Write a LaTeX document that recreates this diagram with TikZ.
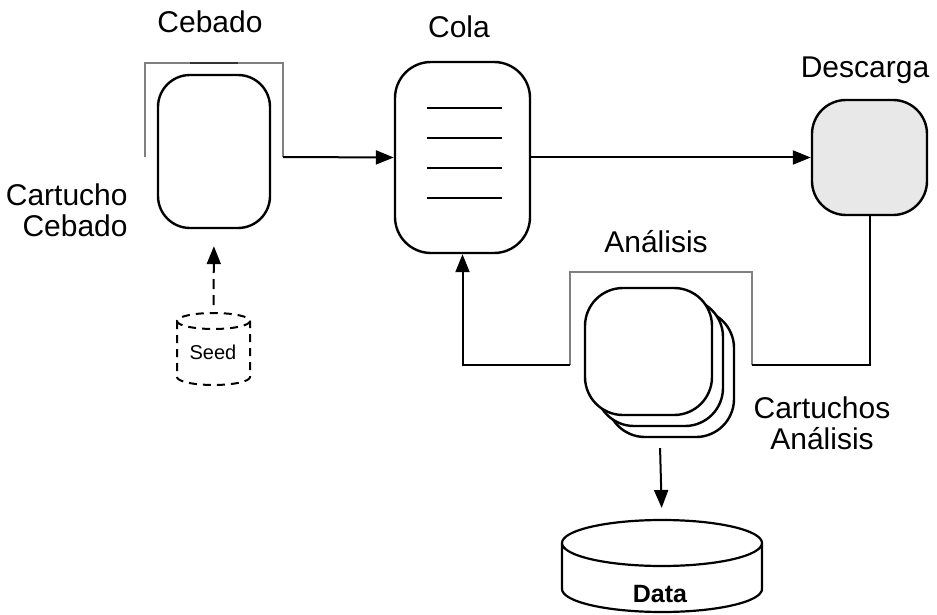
\documentclass[tikz,border=0pt]{standalone}
\usepackage{fontspec}
\setmainfont{Liberation Sans}
\usepackage{tikz}
\usetikzlibrary{positioning,arrows.meta}

\begin{document}
\begin{tikzpicture}[x=0.5pt, y=-0.5pt,
  box/.style={draw, line width=1.2pt, rounded corners=#1, inner sep=0pt},
  card/.style={box=19pt, fill=white, minimum size=63.5pt},
  lbl/.style={font=\fontsize{15}{15.5}\selectfont, inner sep=0pt},
  flow/.style={line width=1pt, -{Triangle[length=9pt,width=7pt]}},
  wire/.style={line width=1pt},
  dash5/.style={dash pattern=on 5pt off 3pt},
  bracket/.style={gray, line width=1pt}]
  \useasboundingbox (0,0) rectangle (937,615);

  % stages
  \node[box=16pt, minimum width=56pt, minimum height=76.5pt] (cebador) at (214,151.5) {};
  \node[box=18pt, minimum width=67.5pt, minimum height=95.5pt] (cola) at (462.5,157.5) {};
  \node[box=17pt, fill=gray!18, minimum size=57.5pt] (descarga) at (869.5,157.5) {};
  \node[card] (ana3) at (670.5,373.5) {};
  \node[card] (ana2) at (659.5,362.5) {};
  \node[card] (ana1) at (648.5,351.5) {};

  % queue entries
  \foreach \y in {108,138,168,198} {
    \draw[line width=1.2pt] (427,\y) -- (502,\y);
  }

  % seed store (dashed cylinder)
  \draw[line width=1pt, dash pattern=on 4pt off 3pt]
    (213.5,321) ellipse [x radius=36.5, y radius=8]
    (177,321) -- (177,377) arc[start angle=180, end angle=0, x radius=36.5, y radius=8] -- (250,321);
  \coordinate (seedtop) at (213.5,313);
  \node[font=\fontsize{10}{12}\selectfont, inner sep=0pt] (seed) at (213,352) {Seed};

  % data store
  \draw[line width=1.1pt]
    (662,543) ellipse [x radius=100, y radius=23]
    (562,543) -- (562,589) arc[start angle=180, end angle=0, x radius=100, y radius=23] -- (762,543);
  \coordinate (datatop) at (662,520);
  \node[font=\fontsize{12.5}{15}\selectfont\bfseries, inner sep=0pt] (data) at (660,594) {Data};

  % brackets
  \draw[bracket] (145,157) |- (283,63) -- (283,157) coordinate (cebR);
  \draw[gray!40!black, line width=1.2pt] (190,63) -- (238,63);
  \draw[bracket] (570,365) coordinate (anaL) |- (752,272) -- (752,365) coordinate (anaR);

  % connectors
  \draw[flow] (cebR) -- (cola.west);
  \draw[flow] (cola.east) -- (descarga.west);
  \draw[wire] (descarga.south) |- (anaR);
  \draw[flow] (anaL) -| (cola.south);
  \draw[flow, dash5, shorten <=4pt, shorten >=8.5pt] (seedtop) -- (cebador.south);
  \draw[flow, shorten <=10.5pt, shorten >=6pt] (ana2.south) -- (datatop);

  % labels
  \node[lbl, anchor=base] (cebadolbl) at (210,33) {Cebado};
  \node[lbl, anchor=base] (colalbl) at (459,38) {Cola};
  \node[lbl, anchor=base] (descargalbl) at (865,78) {Descarga};
  \node[lbl, anchor=base] (analisislbl) at (656,252) {Análisis};
  \node[lbl, align=right, anchor=east] (cartcebado) at (128,210) {Cartucho\\Cebado};
  \node[lbl, align=center] (cartanalisis) at (822,423) {Cartuchos\\Análisis};
\end{tikzpicture}
\end{document}
